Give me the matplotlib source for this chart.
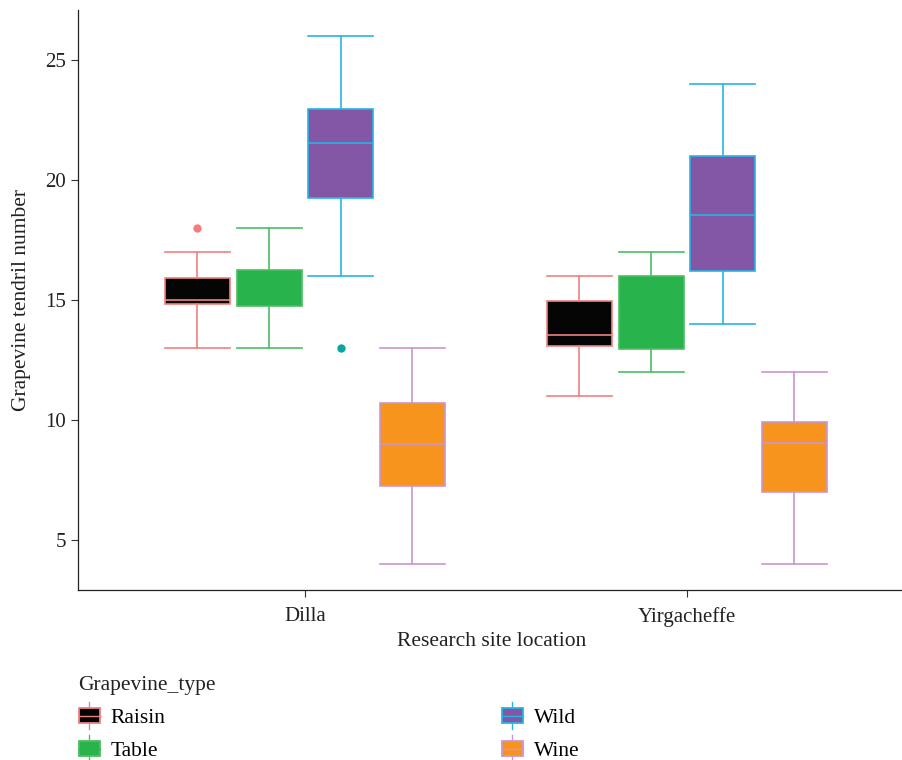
#! /usr/bin/env python3
# Grapevine tendril number by site and grapevine type (box plots)

import matplotlib
matplotlib.use('Agg')
import matplotlib.pyplot as plt
from matplotlib.patches import Rectangle
from matplotlib.lines import Line2D
from matplotlib.legend_handler import HandlerBase

plt.rcParams['font.family'] = ['Liberation Serif', 'DejaVu Serif']

sites = ['Dilla', 'Yirgacheffe']
types = ['Raisin', 'Table', 'Wild', 'Wine']

# per type, one value per site
q1 = {'Raisin': [14.85, 13.07], 'Table': [14.73, 12.97], 'Wild': [19.25, 16.23], 'Wine': [7.25, 7.0]}
med = {'Raisin': [15.0, 13.52], 'Table': [15.5, 14.5], 'Wild': [21.55, 18.53], 'Wine': [9.0, 9.05]}
q3 = {'Raisin': [15.92, 14.97], 'Table': [16.24, 16.02], 'Wild': [22.97, 21.0], 'Wine': [10.72, 9.93]}
wlo = {'Raisin': [13, 11], 'Table': [13, 12], 'Wild': [16, 14], 'Wine': [4, 4]}
whi = {'Raisin': [17, 16], 'Table': [18, 17], 'Wild': [26, 24], 'Wine': [13, 12]}
outliers = {'Raisin': [[18], []], 'Table': [[], []], 'Wild': [[13], []], 'Wine': [[], []]}

fills = {'Raisin': '#050505', 'Table': '#29B34D', 'Wild': '#8456A6', 'Wine': '#F7941D'}
edges = {'Raisin': '#F08080', 'Table': '#4DBE62', 'Wild': '#27B4E4', 'Wine': '#CC95D0'}
med_cols = {'Raisin': '#F08080', 'Table': '#29B34D', 'Wild': '#27B4E4', 'Wine': '#CC95D0'}
flier_cols = {'Raisin': '#F47C7C', 'Table': '#4DBE62', 'Wild': '#0AA59E', 'Wine': '#CC95D0'}


class BoxKey(HandlerBase):
    def __init__(self, fill, edge, mcol):
        super().__init__()
        self.fill = fill
        self.edge = edge
        self.mcol = mcol

    def create_artists(self, legend, orig_handle, xdescent, ydescent, width, height, fontsize, trans):
        cx = width / 2 - xdescent
        vline = Line2D([cx, cx], [-ydescent - 0.4 * height, height * 1.4 - ydescent],
                       color=self.edge, lw=1.0, transform=trans)
        rect = Rectangle((-xdescent, -ydescent), width, height, facecolor=self.fill,
                         edgecolor=self.edge, lw=1.3, transform=trans)
        hline = Line2D([-xdescent, width - xdescent], [height / 2 - ydescent] * 2,
                       color=self.mcol, lw=1.0, transform=trans)
        return [vline, rect, hline]


fig = plt.figure(figsize=(9.03, 7.6), dpi=100)
ax = fig.add_axes([78 / 903, 170 / 760, 827 / 903, 580 / 760])

dodge = 0.1875
bw = 0.17
for k, t in enumerate(types):
    stats = []
    pos = []
    for i in range(len(sites)):
        stats.append({'med': med[t][i], 'q1': q1[t][i], 'q3': q3[t][i],
                      'whislo': wlo[t][i], 'whishi': whi[t][i], 'fliers': outliers[t][i]})
        pos.append(i + 1 + (k - 1.5) * dodge)
    ax.bxp(stats, positions=pos, widths=bw, patch_artist=True, manage_ticks=False,
           boxprops=dict(facecolor=fills[t], edgecolor=edges[t], lw=1.2),
           medianprops=dict(color=med_cols[t], lw=1.2),
           whiskerprops=dict(color=edges[t], lw=1.2),
           capprops=dict(color=edges[t], lw=1.2),
           capwidths=bw,
           flierprops=dict(marker='o', markerfacecolor=flier_cols[t], markeredgecolor='none', markersize=6))

ax.set_xlim(0.406, 2.571)
ax.set_ylim(2.9, 27.1)
ax.set_xticks([1, 2])
ax.set_xticklabels(sites)
ax.set_yticks([5, 10, 15, 20, 25])
ax.tick_params(labelsize=15, length=5, width=0.8, color='#333333', labelcolor='#222222')
ax.tick_params(axis='x', pad=7)
for s in ['top', 'right']:
    ax.spines[s].set_visible(False)
for s in ['left', 'bottom']:
    ax.spines[s].set_linewidth(0.9)
    ax.spines[s].set_color('#222222')
ax.set_xlabel('Research site location', fontsize=15.5, color='#222222', labelpad=4)
ax.set_ylabel('Grapevine tendril number', fontsize=15.5, color='#222222', labelpad=10)

handles = [Rectangle((0, 0), 1, 1) for _ in types]
leg = fig.legend(handles, types, ncol=2, loc='upper left', bbox_to_anchor=(0.0655, 0.1355),
                 frameon=False, title='Grapevine_type', alignment='left',
                 handler_map={h: BoxKey(fills[t], edges[t], med_cols[t]) for h, t in zip(handles, types)},
                 fontsize=15.5, title_fontsize=15.5, handlelength=1.0, handleheight=0.7,
                 handletextpad=0.5, columnspacing=15.6, labelspacing=0.6)
leg.get_title().set_color('#222222')

fig.savefig('out.png', dpi=100)
